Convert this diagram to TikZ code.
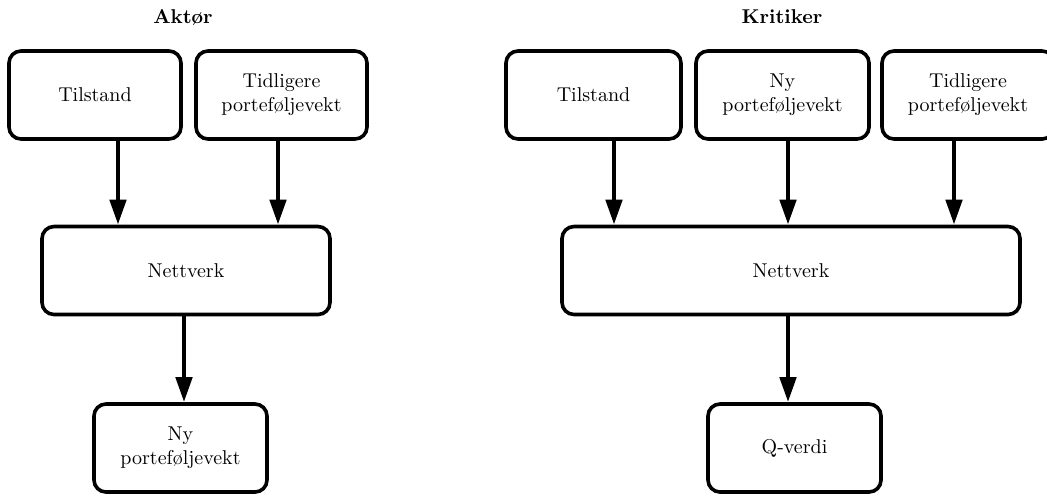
\documentclass[tikz,border=0pt]{standalone}
\usepackage{amsmath}
\usepackage{amssymb}
\usetikzlibrary{arrows.meta}

\tikzset{
	boks/.style={draw, line width=1.8pt, rounded corners=6pt, align=center, minimum height=44pt},
	pil/.style={line width=2.3pt, -{Triangle[length=12.5pt,width=8pt]}}
}

\begin{document}
\begin{tikzpicture}[x=0.5pt,y=-0.5pt]
			\useasboundingbox (0,0) rectangle (1047,495);
			% Aktor
			\node[font=\bfseries] (akttittel) at (183,18) {Aktør};
			\node[boks, minimum width=86pt] (atil) at (95,95) {Tilstand};
			\node[boks, minimum width=85.5pt] (atid) at (281.5,95) {Tidligere\\porteføljevekt};
			\node[boks, minimum width=144pt] (anett) at (186,270.5) {Nettverk};
			\node[boks, minimum width=86.5pt] (any) at (180.5,448) {Ny\\porteføljevekt};
			\draw[pil] ([xshift=11.5pt]atil.south) -- ([xshift=11.5pt]atil.south |- anett.north);
			\draw[pil] ([xshift=-1.75pt]atid.south) -- ([xshift=-1.75pt]atid.south |- anett.north);
			\draw[pil] ([xshift=-1pt]anett.south) -- ([xshift=-1pt]anett.south |- any.north);
			% Kritiker
			\node[font=\bfseries] (krittittel) at (782,17) {Kritiker};
			\node[boks, minimum width=87.5pt] (ktil) at (593.5,95) {Tilstand};
			\node[boks, minimum width=86.5pt] (kny) at (782.5,95) {Ny\\porteføljevekt};
			\node[boks, minimum width=86pt] (ktid) at (968,95) {Tidligere\\porteføljevekt};
			\node[boks, minimum width=229pt] (knett) at (791,270.5) {Nettverk};
			\node[boks, minimum width=86.5pt] (kq) at (794.5,448) {Q-verdi};
			\draw[pil] ([xshift=10.25pt]ktil.south) -- ([xshift=10.25pt]ktil.south |- knett.north);
			\draw[pil] ([xshift=2.75pt]kny.south) -- ([xshift=2.75pt]kny.south |- knett.north);
			\draw[pil] ([xshift=-7pt]ktid.south) -- ([xshift=-7pt]ktid.south |- knett.north);
			\draw[pil] ([xshift=-1.5pt]knett.south) -- ([xshift=-1.5pt]knett.south |- kq.north);
\end{tikzpicture}
\end{document}
